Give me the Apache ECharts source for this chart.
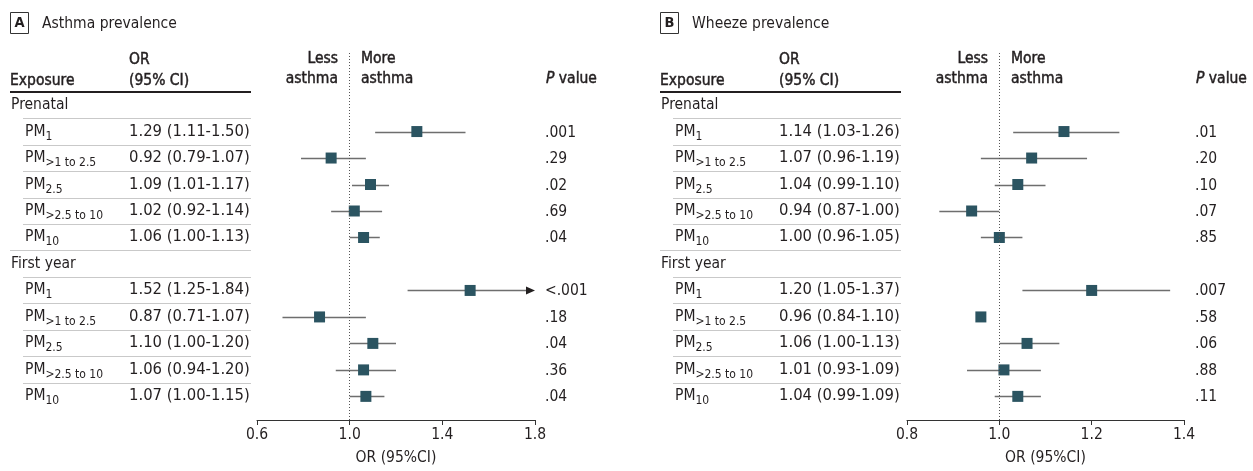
<!DOCTYPE html>
<html><head><meta charset="utf-8">
<script src="https://cdn.jsdelivr.net/npm/echarts@6/dist/echarts.min.js"></script>
<style>html,body{margin:0;padding:0;background:#fff}#c{width:1253px;height:471px}</style>
</head><body><div id="c"></div><script>
// ---------------- data ----------------
const groups = ['Prenatal', 'First year'];
const exposures = ['1', '>1 to 2.5', '2.5', '>2.5 to 10', '10'];

const asthmaOR = [1.29, 0.92, 1.09, 1.02, 1.06, 1.52, 0.87, 1.10, 1.06, 1.07];
const asthmaLo = [1.11, 0.79, 1.01, 0.92, 1.00, 1.25, 0.71, 1.00, 0.94, 1.00];
const asthmaHi = [1.50, 1.07, 1.17, 1.14, 1.13, 1.84, 1.07, 1.20, 1.20, 1.15];
const asthmaP  = ['.001', '.29', '.02', '.69', '.04', '<.001', '.18', '.04', '.36', '.04'];
const asthmaCIDrawn = [true, true, true, true, true, true, true, true, true, true];

const wheezeOR = [1.14, 1.07, 1.04, 0.94, 1.00, 1.20, 0.96, 1.06, 1.01, 1.04];
const wheezeLo = [1.03, 0.96, 0.99, 0.87, 0.96, 1.05, 0.84, 1.00, 0.93, 0.99];
const wheezeHi = [1.26, 1.19, 1.10, 1.00, 1.05, 1.37, 1.10, 1.13, 1.09, 1.09];
const wheezeP  = ['.01', '.20', '.10', '.07', '.85', '.007', '.58', '.06', '.88', '.11'];
const wheezeCIDrawn = [true, true, true, true, true, true, false, true, true, true];

const asthmaTicks = [0.6, 1.0, 1.4, 1.8];
const wheezeTicks = [0.8, 1.0, 1.2, 1.4];

// ---------------- fonts ----------------
function hasFont(name) {
  const c = document.createElement('canvas').getContext('2d');
  const s = 'Prenatal Exposure 0123456789';
  c.font = '72px monospace'; const w1 = c.measureText(s).width;
  c.font = '72px "' + name + '", monospace'; const w2 = c.measureText(s).width;
  return Math.abs(w1 - w2) > 0.5;
}
const COND = hasFont('DejaVu Sans Condensed');
const FONT = COND ? '"DejaVu Sans Condensed", "DejaVu Sans"' : '"DejaVu Sans"';
const FS = COND ? 15.5 : 14;
const FS_OR = COND ? 16.5 : 14;
const SUB = COND ? 12 : 11;
const INK = '#231f20';

// ---------------- layout ----------------
const panels = [
  { key: 'A', title: 'Asthma prevalence', off: 0, or: asthmaOR, lo: asthmaLo, hi: asthmaHi, p: asthmaP, drawn: asthmaCIDrawn, ticks: asthmaTicks, left: 257, width: 278 },
  { key: 'B', title: 'Wheeze prevalence', off: 650, or: wheezeOR, lo: wheezeLo, hi: wheezeHi, p: wheezeP, drawn: wheezeCIDrawn, ticks: wheezeTicks, left: 907, width: 277 }
];
const GRID_TOP = 53, GRID_H = 370;
const Y_MIN = -1.966, Y_MAX = 11.892;
const itemRow = k => (k < 5 ? k + 1 : k + 2);

const grids = [], xAxes = [], yAxes = [], series = [], graphics = [];

function txt(x, y, text, opt) {
  return Object.assign({ type: 'text', x: x, y: y, silent: true,
    style: Object.assign({ text: text, fontFamily: FONT, fontSize: FS, fill: INK, align: 'left', verticalAlign: 'middle' }, opt || {}) });
}
const BOLDISH = { stroke: INK, lineWidth: 0.45 };

panels.forEach((P, pi) => {
  const o = P.off;
  grids.push({ left: P.left, width: P.width, top: GRID_TOP, height: GRID_H });
  const t0 = P.ticks[0], t1 = P.ticks[P.ticks.length - 1];
  xAxes.push({
    gridIndex: pi, type: 'value', min: t0, max: t1, position: 'bottom',
    interval: Math.round((P.ticks[1] - P.ticks[0]) * 100) / 100,
    axisLine: { onZero: false, lineStyle: { color: '#333', width: 1 } },
    axisTick: { length: 5, lineStyle: { color: '#333' } },
    splitLine: { show: false },
    axisLabel: { fontFamily: FONT, fontSize: FS, color: INK, margin: 7, formatter: v => v.toFixed(1) },
    name: 'OR (95%CI)', nameLocation: 'middle', nameGap: 30,
    nameTextStyle: { fontFamily: FONT, fontSize: FS, color: INK }
  });
  yAxes.push({ gridIndex: pi, type: 'value', inverse: true, min: Y_MIN, max: Y_MAX, show: false });

  // table rows
  const tableData = [];
  for (let r = 0; r < 12; r++) tableData.push([t0, r]);
  series.push({
    type: 'custom', xAxisIndex: pi, yAxisIndex: pi, silent: true, clip: false, z: 1,
    data: tableData,
    renderItem: function (params, api) {
      const r = api.value(1);
      const y = Math.round(api.coord([t0, r])[1]);
      const ch = [];
      if (r === 0 || r === 6) {
        ch.push(txt(o + 11, y, groups[r === 0 ? 0 : 1]));
      } else {
        const k = r < 6 ? r - 1 : r - 2;
        const e = exposures[k % 5];
        ch.push(txt(o + 25, y, '{m|PM}{s|' + e + '}', {
          rich: {
            m: { fontFamily: FONT, fontSize: FS, fill: INK, lineHeight: 22 },
            s: { fontFamily: FONT, fontSize: SUB, fill: INK, lineHeight: 12, verticalAlign: 'bottom' }
          }
        }));
        ch.push(txt(o + 129, y, P.or[k].toFixed(2) + ' (' + P.lo[k].toFixed(2) + '-' + P.hi[k].toFixed(2) + ')', { fontSize: FS_OR }));
        ch.push(txt(o + 545, y + 1, P.p[k]));
      }
      if (r < 11) {
        const ly = y + 13.5;
        ch.push({ type: 'line', silent: true, shape: { x1: o + (r === 5 ? 10 : 23), y1: ly, x2: o + 251, y2: ly },
          style: { stroke: '#c9c9c9', lineWidth: 1 } });
      }
      return { type: 'group', children: ch };
    }
  });

  // whiskers
  const ciData = [];
  for (let k = 0; k < 10; k++) if (P.drawn[k]) ciData.push([P.lo[k], P.hi[k], itemRow(k)]);
  series.push({
    type: 'custom', xAxisIndex: pi, yAxisIndex: pi, silent: true, clip: false, z: 2,
    encode: { x: [0, 1], y: 2 },
    data: ciData,
    renderItem: function (params, api) {
      const lo = api.value(0), hi = api.value(1), r = api.value(2);
      const a = api.coord([Math.max(lo, t0), r]);
      const b = api.coord([Math.min(hi, t1), r]);
      const y = Math.round(a[1]) + 0.5;
      const ch = [];
      const over = hi > t1;
      ch.push({ type: 'line', shape: { x1: a[0], y1: y, x2: over ? b[0] - 6 : b[0], y2: y },
        style: { stroke: '#6e6e6e', lineWidth: 1.5 } });
      if (over) {
        ch.push({ type: 'polygon', shape: { points: [[b[0], y], [b[0] - 9, y - 4], [b[0] - 9, y + 4]] },
          style: { fill: INK } });
      }
      return { type: 'group', children: ch };
    }
  });

  // markers
  const ptData = [];
  for (let k = 0; k < 10; k++) ptData.push([P.or[k], itemRow(k)]);
  series.push({
    type: 'scatter', xAxisIndex: pi, yAxisIndex: pi, silent: true, z: 3,
    symbol: 'rect', symbolSize: 11,
    itemStyle: { color: '#2b5461', opacity: 1 },
    data: ptData,
    markLine: {
      silent: true, symbol: ['none', 'none'], label: { show: false },
      lineStyle: { type: [1, 2], color: '#555', width: 1 },
      emphasis: { disabled: true },
      data: [{ xAxis: 1 }]
    }
  });

  // headers (static layout)
  graphics.push({ type: 'rect', silent: true, shape: { x: o + 10.5, y: 12.5, width: 18, height: 21 }, style: { fill: 'none', stroke: '#333', lineWidth: 1 } });
  graphics.push(txt(o + 19.5, 23.5, P.key, { align: 'center', fontWeight: 'bold', fontSize: FS - 1 }));
  graphics.push(txt(o + 42, 23.5, P.title));
  graphics.push(txt(o + 129, 60, 'OR', BOLDISH));
  graphics.push(txt(o + 129, 80.5, '(95% CI)', BOLDISH));
  graphics.push(txt(o + 10, 80.5, 'Exposure', BOLDISH));
  graphics.push({ type: 'line', silent: true, shape: { x1: o + 10, y1: 92, x2: o + 251, y2: 92 }, style: { stroke: INK, lineWidth: 2 } });
  graphics.push(txt(o + 338, 59, 'Less', Object.assign({ align: 'right' }, BOLDISH)));
  graphics.push(txt(o + 338, 79, 'asthma', Object.assign({ align: 'right' }, BOLDISH)));
  graphics.push(txt(o + 361, 59, 'More', BOLDISH));
  graphics.push(txt(o + 361, 79, 'asthma', BOLDISH));
  graphics.push(txt(o + 546, 79, '{i|P} value', Object.assign({
    rich: { i: { fontFamily: FONT, fontSize: FS, fill: INK, fontStyle: 'italic', stroke: INK, lineWidth: 0.45 } }
  }, BOLDISH)));
});

const chart = echarts.init(document.getElementById('c'), null, { renderer: 'canvas' });
chart.setOption({
  backgroundColor: '#fff',
  animation: false,
  grid: grids, xAxis: xAxes, yAxis: yAxes, series: series,
  graphic: { elements: graphics }
});
</script></body></html>
